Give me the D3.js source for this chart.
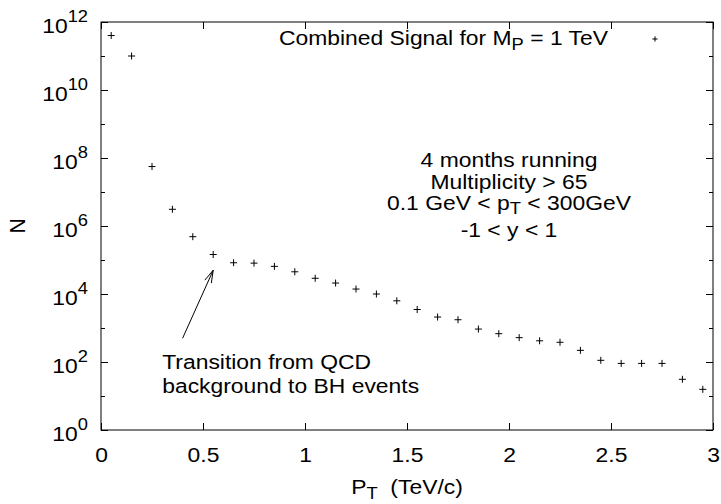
<!DOCTYPE html>
<html>
<head>
<meta charset="utf-8">
<script src="https://cdn.jsdelivr.net/npm/d3@7"></script>
<style>
  html, body { margin: 0; padding: 0; background: #fff; }
  svg { display: block; font-family: "Liberation Sans", Arial, Helvetica, sans-serif; }
  text { fill: #000; }
</style>
</head>
<body>
<svg id="chart" width="721" height="504"></svg>
<script>
// Transverse momentum bins (TeV/c)
const ptBins = [0.05, 0.15, 0.25, 0.35, 0.45, 0.55, 0.65, 0.75, 0.85, 0.95,
                1.05, 1.15, 1.25, 1.35, 1.45, 1.55, 1.65, 1.75, 1.85, 1.95,
                2.05, 2.15, 2.25, 2.35, 2.45, 2.55, 2.65, 2.75, 2.85, 2.95];
// Event counts per bin
const counts = [4e11, 1e11, 5.6e7, 3.1e6, 4.85e5, 1.45e5, 8.3e4, 8.1e4, 6.5e4, 4.5e4,
                2.9e4, 2.1e4, 1.4e4, 1.0e4, 6.3e3, 3.5e3, 2.1e3, 1.75e3, 930, 680,
                520, 420, 380, 220, 112, 91, 91, 91, 31, 15.7];

const xTicks = [0, 0.5, 1, 1.5, 2, 2.5, 3];
const xTickLabels = ["0", "0.5", "1", "1.5", "2", "2.5", "3"];
const yMajorExp = [0, 2, 4, 6, 8, 10, 12];
const yMinorExp = [1, 3, 5, 7, 9, 11];

const legendText = { main: "Combined Signal for M", sub: "P", tail: " = 1 TeV" };
const cutLines = [
  [{ t: "4 months running" }],
  [{ t: "Multiplicity > 65" }],
  [{ t: "0.1 GeV < p" }, { t: "T", sub: true }, { t: " < 300GeV" }],
  [{ t: "-1 < y < 1" }]
];
const noteLines = ["Transition from QCD", "background to BH events"];
// Arrow from the note to the turnover point (data coordinates)
const arrowFrom = [0.4, 500];
const arrowTo = [0.55, 5e4];
const notePos = [0.3, 0];

(function draw() {
  const svg = d3.select("#chart");
  const pl = 101, pr = 713, pt = 22, pb = 430;
  const FS = 21, SFS = 16.8;
  const SX = 1.09; // glyphs are a little wider than tall

  const x = d3.scaleLinear().domain([0, 3]).range([pl, pr]);
  const y = d3.scaleLog().domain([1, 1e12]).range([pb, pt]);

  // text placed at (tx, ty) with horizontal stretch
  function stext(tx, ty, anchor) {
    return svg.append("g")
      .attr("transform", `translate(${tx},${ty}) scale(${SX},1)`)
      .append("text")
      .attr("text-anchor", anchor)
      .attr("font-size", FS);
  }

  // Frame
  svg.append("rect")
    .attr("x", pl).attr("y", pt)
    .attr("width", pr - pl).attr("height", pb - pt)
    .attr("fill", "none").attr("stroke", "#000").attr("stroke-width", 1);

  function styleAxis(g) {
    g.select(".domain").remove();
    g.selectAll(".tick line").attr("stroke", "#000").attr("stroke-width", 1);
  }

  // Bottom axis with inward ticks
  svg.append("g")
    .attr("transform", `translate(0,${pb})`)
    .call(d3.axisBottom(x).tickValues(xTicks)
      .tickFormat((d, i) => xTickLabels[i])
      .tickSize(-7).tickPadding(16.8))
    .call(styleAxis)
    .call(g => g.selectAll("text")
      .attr("font-size", FS).attr("font-family", null)
      .attr("transform", `scale(${SX},1)`));

  // Top mirror ticks
  svg.append("g")
    .attr("transform", `translate(0,${pt})`)
    .call(d3.axisTop(x).tickValues(xTicks).tickFormat("").tickSize(-7))
    .call(styleAxis);

  // Left axis: major decades with labels
  const yMajor = yMajorExp.map(e => Math.pow(10, e));
  const yMinor = yMinorExp.map(e => Math.pow(10, e));

  svg.append("g")
    .attr("transform", `translate(${pl},0)`)
    .call(d3.axisLeft(y).tickValues(yMajor).tickSize(-7).tickPadding(13).tickFormat(""))
    .call(styleAxis)
    .call(g => g.selectAll(".tick text").each(function(d, i) {
      const t = d3.select(this)
        .attr("font-size", FS).attr("font-family", null)
        .attr("text-anchor", "end").attr("dy", null)
        .attr("x", -13 / SX).attr("y", 10)
        .attr("transform", `scale(${SX},1)`);
      t.append("tspan").text("10");
      t.append("tspan").attr("font-size", SFS).attr("dy", -10.5).text(String(yMajorExp[i]));
    }));

  svg.append("g")
    .attr("transform", `translate(${pl},0)`)
    .call(d3.axisLeft(y).tickValues(yMinor).tickSize(-4).tickFormat(""))
    .call(styleAxis);

  // Right mirror ticks
  svg.append("g")
    .attr("transform", `translate(${pr},0)`)
    .call(d3.axisRight(y).tickValues(yMajor).tickSize(-7).tickFormat(""))
    .call(styleAxis);
  svg.append("g")
    .attr("transform", `translate(${pr},0)`)
    .call(d3.axisRight(y).tickValues(yMinor).tickSize(-4).tickFormat(""))
    .call(styleAxis);

  // Axis titles
  const xt = stext((pl + pr) / 2, 494, "middle");
  xt.append("tspan").text("P");
  xt.append("tspan").attr("font-size", SFS).attr("dy", 5).text("T");
  xt.append("tspan").attr("dy", -5).text("\u00a0\u00a0(TeV/c)");

  svg.append("text")
    .attr("transform", `translate(25,${(pt + pb) / 2}) rotate(-90) scale(1,${SX})`)
    .attr("text-anchor", "middle").attr("font-size", FS)
    .text("N");

  // Data points
  const plus = r => `M${-r},0H${r}M0,${-r}V${r}`;
  svg.append("g")
    .selectAll("path")
    .data(ptBins.map((p, i) => [p, counts[i]]))
    .join("path")
    .attr("transform", d => `translate(${x(d[0])},${y(d[1])})`)
    .attr("d", plus(3.5))
    .attr("stroke", "#000").attr("stroke-width", 1).attr("fill", "none");

  // Legend
  const lg = stext(608, 45, "end");
  lg.append("tspan").text(legendText.main);
  lg.append("tspan").attr("font-size", SFS).attr("dy", 5).text(legendText.sub);
  lg.append("tspan").attr("dy", -5).text(legendText.tail);
  svg.append("path")
    .attr("transform", "translate(655,39)")
    .attr("d", plus(2.6))
    .attr("stroke", "#000").attr("stroke-width", 1);

  // Selection cuts block
  const cutBaselines = [166.7, 189, 210, 237];
  const subShift = 4;
  cutLines.forEach((parts, i) => {
    const t = stext(509, cutBaselines[i], "middle");
    let shift = 0;
    parts.forEach(p => {
      const s = t.append("tspan").text(p.t);
      if (p.sub) { s.attr("font-size", SFS).attr("dy", subShift - shift); shift = subShift; }
      else if (shift) { s.attr("dy", -shift); shift = 0; }
    });
  });

  // Annotation text
  const noteX = x(notePos[0]);
  [369.3, 392.7].forEach((by, i) => {
    stext(noteX, by, "start").text(noteLines[i]);
  });

  // Arrow
  const ax0 = x(arrowFrom[0]), ay0 = y(arrowFrom[1]);
  const ax1 = x(arrowTo[0]), ay1 = y(arrowTo[1]);
  const ang = Math.atan2(ay0 - ay1, ax0 - ax1);
  const hl = 13, ha = 16 * Math.PI / 180;
  const h1 = [ax1 + hl * Math.cos(ang + ha), ay1 + hl * Math.sin(ang + ha)];
  const h2 = [ax1 + hl * Math.cos(ang - ha), ay1 + hl * Math.sin(ang - ha)];
  svg.append("path")
    .attr("d", `M${ax0},${ay0}L${ax1},${ay1}M${h1[0]},${h1[1]}L${ax1},${ay1}L${h2[0]},${h2[1]}`)
    .attr("stroke", "#000").attr("stroke-width", 1).attr("fill", "none");
})();
</script>
</body>
</html>
